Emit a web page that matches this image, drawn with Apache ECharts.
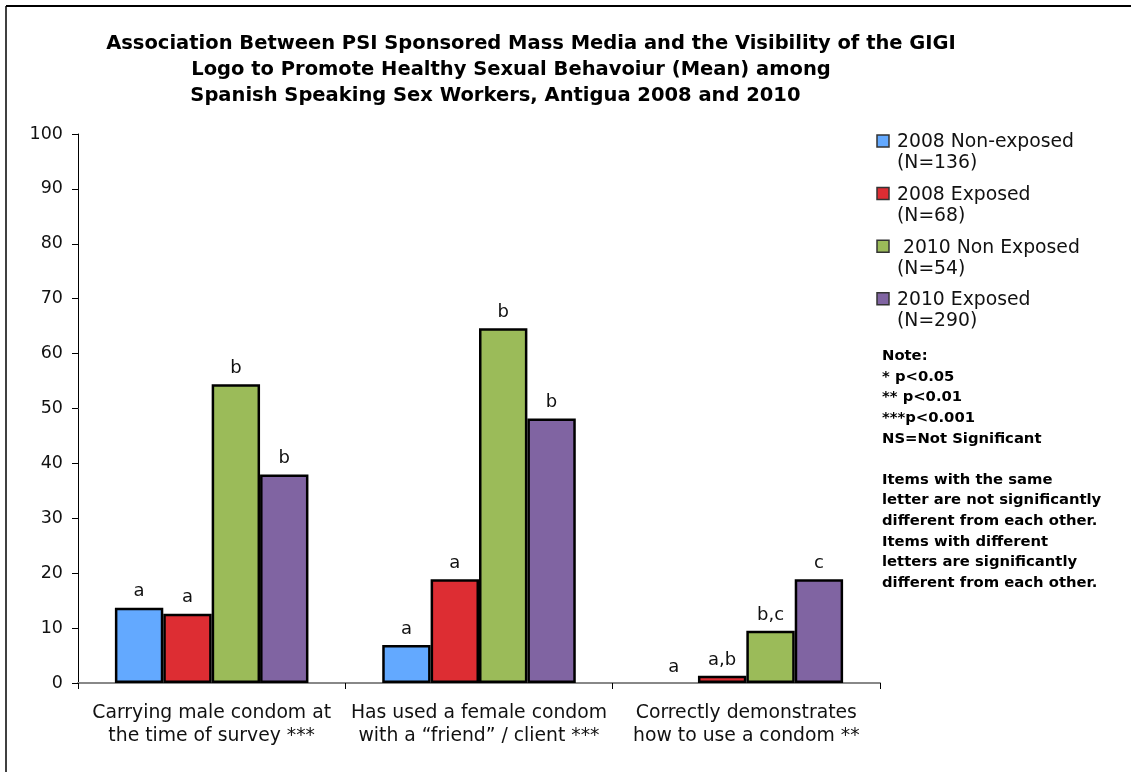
<!DOCTYPE html>
<html>
<head>
<meta charset="utf-8">
<script src="https://cdn.jsdelivr.net/npm/echarts@6/dist/echarts.min.js"></script>
<style>
  html, body { margin: 0; padding: 0; background: #ffffff; }
  #chart { width: 1131px; height: 772px; }
</style>
</head>
<body>
<div id="chart"></div>
<script>
// Survey items (x-axis categories)
const categories = [
  'Carrying male condom at\nthe time of survey ***',
  'Has used a female condom\nwith a \u201cfriend\u201d / client ***',
  'Correctly demonstrates\nhow to use a condom **'
];

// Groups and sample sizes
const seriesNames = ['2008 Non-exposed', '2008 Exposed', ' 2010 Non Exposed', '2010 Exposed'];
const sampleSizes = ['(N=136)', '(N=68)', '(N=54)', '(N=290)'];
const seriesColors = ['#63a9ff', '#dd2d33', '#9bbb59', '#8064a2'];

// Mean values per group, one entry per category
const nonExposed2008 = [13.7, 6.9, 0];
const exposed2008 = [12.6, 18.9, 1.3];
const nonExposed2010 = [54.4, 64.6, 9.5];
const exposed2010 = [38.0, 48.2, 18.9];

// Significance letters shown above each bar
const letters2008Non = ['a', 'a', 'a'];
const letters2008Exp = ['a', 'a', 'a,b'];
const letters2010Non = ['b', 'b', 'b,c'];
const letters2010Exp = ['b', 'b', 'c'];

const yTicks = [0, 10, 20, 30, 40, 50, 60, 70, 80, 90, 100];

const titleLines = [
  'Association Between PSI Sponsored Mass Media and the Visibility of the GIGI',
  'Logo to Promote Healthy Sexual Behavoiur (Mean) among',
  ' Spanish Speaking Sex Workers, Antigua 2008 and 2010'
];

const noteLines = [
  'Note:',
  '* p<0.05',
  '** p<0.01',
  '***p<0.001',
  'NS=Not Significant',
  '',
  'Items with the same',
  'letter are not significantly',
  'different from each other.',
  'Items with different',
  'letters are significantly',
  'different from each other.'
];

const FONT = '"DejaVu Sans", Verdana, sans-serif';
const valueSets = [nonExposed2008, exposed2008, nonExposed2010, exposed2010];
const letterSets = [letters2008Non, letters2008Exp, letters2010Non, letters2010Exp];

const chart = echarts.init(document.getElementById('chart'), null, { renderer: 'canvas' });

const titleCenters = [526, 506, 487];
const titles = titleLines.map((t, i) => ({
  text: t,
  left: titleCenters[i],
  top: 29 + i * 26,
  textAlign: 'center',
  textStyle: { fontFamily: FONT, fontWeight: 'bold', fontSize: 19.5, color: '#000' }
}));

const series = seriesNames.map((name, i) => ({
  name: name,
  type: 'bar',
  // zero-height bars get no outline
  data: valueSets[i].map(v => v === 0 ? { value: v, itemStyle: { borderWidth: 0 } } : v),
  barGap: '0%',
  barCategoryGap: '27.6%',
  itemStyle: { color: seriesColors[i], borderColor: '#000', borderWidth: 2.5 },
  label: {
    show: true,
    position: 'top',
    distance: 7,
    fontFamily: FONT,
    fontSize: 18,
    color: '#111',
    formatter: p => letterSets[i][p.dataIndex]
  }
}));

// Legend swatches and two-line labels
const legendGraphics = [];
seriesNames.forEach((name, i) => {
  const y0 = 135 + i * 52.6;
  legendGraphics.push({
    type: 'rect',
    shape: { x: 877, y: y0, width: 12, height: 12 },
    style: { fill: seriesColors[i], stroke: '#333', lineWidth: 1.5 }
  });
  legendGraphics.push({
    type: 'text',
    x: 897,
    y: y0 - 3,
    style: {
      text: name + '\n' + sampleSizes[i],
      font: '18.8px ' + FONT,
      lineHeight: 21,
      fill: '#111'
    }
  });
});

const noteGraphic = {
  type: 'text',
  x: 882,
  y: 346,
  style: {
    text: noteLines.join('\n'),
    font: 'bold 14.8px ' + FONT,
    lineHeight: 20.6,
    fill: '#000'
  }
};

// Outer frame (top and left edges)
const frameGraphics = [
  { type: 'line', shape: { x1: 6, y1: 6, x2: 1131, y2: 6 }, style: { stroke: '#000', lineWidth: 2 } },
  { type: 'line', shape: { x1: 6, y1: 6, x2: 6, y2: 772 }, style: { stroke: '#000', lineWidth: 1.5 } }
];

chart.setOption({
  backgroundColor: '#ffffff',
  animation: false,
  title: titles,
  grid: { left: 78, right: 251, top: 134, bottom: 89, containLabel: false },
  xAxis: {
    type: 'category',
    data: categories,
    axisLine: { show: true, lineStyle: { color: '#888', width: 2 } },
    axisTick: { show: true, length: 6, lineStyle: { color: '#000', width: 1 } },
    axisLabel: {
      fontFamily: FONT, fontSize: 18.8, color: '#111', margin: 19,
      lineHeight: 23, interval: 0
    }
  },
  yAxis: {
    type: 'value',
    min: yTicks[0],
    max: yTicks[yTicks.length - 1],
    interval: 10,
    axisLine: { show: true, lineStyle: { color: '#000', width: 1 } },
    axisTick: { show: true, length: 6, lineStyle: { color: '#000', width: 1 } },
    splitLine: { show: false },
    axisLabel: { fontFamily: FONT, fontSize: 17.5, color: '#111', margin: 15 }
  },
  series: series,
  graphic: legendGraphics.concat([noteGraphic]).concat(frameGraphics)
});
</script>
</body>
</html>
